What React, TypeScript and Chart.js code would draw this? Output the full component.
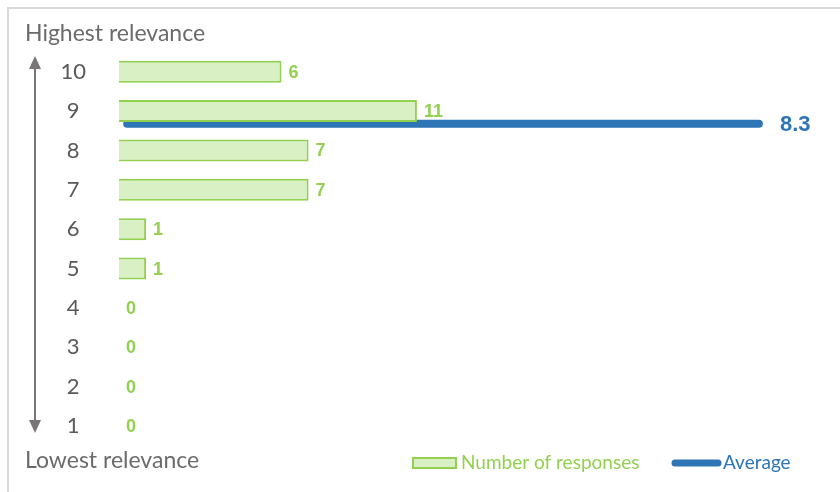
import React, { useEffect, useRef } from "react";
import { Chart, registerables } from "chart.js";

Chart.register(...registerables);

const categories = ["10", "9", "8", "7", "6", "5", "4", "3", "2", "1"];
const responses = [6, 11, 7, 7, 1, 1, 0, 0, 0, 0];
const averageValue = 8.3;
const topLabel = "Highest relevance";
const bottomLabel = "Lowest relevance";
const seriesNames = ["Number of responses", "Average"];

const GREEN = "#92D050";
const GREEN_FILL = "#D8F0C4";
const BLUE = "#2E75B6";
const GRAY_TEXT = "#6B6B6B";
const ARROW = "#7A7676";

const overlay = {
  id: "overlay",
  afterDatasetsDraw(chart: any) {
    const ctx = chart.ctx;
    ctx.save();
    // frame (top + left)
    ctx.strokeStyle = "#D9D9D9";
    ctx.lineWidth = 2;
    ctx.beginPath();
    ctx.moveTo(8, chart.height);
    ctx.lineTo(8, 8);
    ctx.lineTo(chart.width, 8);
    ctx.stroke();

    // value labels
    const meta = chart.getDatasetMeta(0);
    ctx.font = "bold condensed 18px 'Liberation Sans Narrow', 'Liberation Sans', sans-serif";
    ctx.fillStyle = GREEN;
    ctx.textAlign = "left";
    ctx.textBaseline = "middle";
    meta.data.forEach((el: any, i: number) => {
      ctx.fillText(String(responses[i]), el.x + 7, el.y + 1);
    });

    // average label
    const lmeta = chart.getDatasetMeta(1);
    const last = lmeta.data[lmeta.data.length - 1];
    ctx.font = "bold 22px 'Liberation Sans', Arial, sans-serif";
    ctx.fillStyle = BLUE;
    ctx.fillText(averageValue.toFixed(1), last.x + 21, last.y + 1);

    // side titles
    ctx.font = "23px Lato, sans-serif";
    ctx.fillStyle = GRAY_TEXT;
    ctx.fillText(topLabel, 25, 34);
    ctx.fillText(bottomLabel, 25, 461);

    // arrow
    const ax = 35;
    const yTop = 56;
    const yBot = 433;
    ctx.strokeStyle = ARROW;
    ctx.fillStyle = ARROW;
    ctx.lineWidth = 2;
    ctx.beginPath();
    ctx.moveTo(ax, yTop + 10);
    ctx.lineTo(ax, yBot - 10);
    ctx.stroke();
    ctx.beginPath();
    ctx.moveTo(ax, yTop);
    ctx.lineTo(ax - 6, yTop + 13);
    ctx.lineTo(ax + 6, yTop + 13);
    ctx.closePath();
    ctx.fill();
    ctx.beginPath();
    ctx.moveTo(ax, yBot);
    ctx.lineTo(ax - 6, yBot - 13);
    ctx.lineTo(ax + 6, yBot - 13);
    ctx.closePath();
    ctx.fill();

    // legend
    const ly = 463;
    ctx.fillStyle = GREEN_FILL;
    ctx.fillRect(413, ly - 5, 43, 10);
    ctx.strokeStyle = GREEN;
    ctx.lineWidth = 2;
    ctx.strokeRect(413, ly - 5, 43, 10);
    ctx.font = "19px Lato, sans-serif";
    ctx.fillStyle = GREEN;
    ctx.textBaseline = "middle";
    ctx.fillText(seriesNames[0], 461, ly);
    ctx.strokeStyle = BLUE;
    ctx.lineWidth = 7;
    ctx.lineCap = "round";
    ctx.beginPath();
    ctx.moveTo(675, ly);
    ctx.lineTo(718, ly);
    ctx.stroke();
    ctx.fillStyle = BLUE;
    ctx.fillText(seriesNames[1], 723, ly);
    ctx.restore();
  },
};

export default function App() {
  const ref = useRef<HTMLCanvasElement | null>(null);
  useEffect(() => {
    document.body.style.margin = "0";
    const chart = new Chart(ref.current as HTMLCanvasElement, {
      type: "bar",
      data: {
        labels: categories,
        datasets: [
          {
            label: seriesNames[0],
            data: responses,
            backgroundColor: GREEN_FILL,
            borderColor: GREEN,
            borderWidth: 2,
            barPercentage: 0.56,
            categoryPercentage: 1,
            grouped: false,
            xAxisID: "x",
            yAxisID: "y",
          } as any,
          {
            type: "line",
            label: seriesNames[1],
            data: [
              { x: 0, y: averageValue },
              { x: 1, y: averageValue },
            ],
            indexAxis: "x",
            xAxisID: "x2",
            yAxisID: "y2",
            borderColor: BLUE,
            borderWidth: 8,
            borderCapStyle: "round",
            pointRadius: 0,
            clip: false,
          } as any,
        ],
      },
      options: {
        indexAxis: "y",
        animation: false,
        responsive: false,
        events: [],
        layout: { padding: { top: 52, bottom: 45, right: 71, left: 0 } },
        plugins: { legend: { display: false }, tooltip: { enabled: false } },
        scales: {
          x: { type: "linear", min: 0, max: 24, display: false },
          x2: { type: "linear", axis: "x", offset: false, min: -0.013, max: 1.016, display: false },
          y2: { type: "linear", axis: "y", offset: false, min: 0.12, max: 10.12, display: false },
          y: {
            type: "category",
            grid: { display: false, drawTicks: false },
            border: { display: false },
            afterFit: (s: any) => {
              s.width = 119;
            },
            ticks: {
              crossAlign: "center",
              padding: 33,
              color: "#595959",
              font: { family: "Lato, sans-serif", size: 22 },
            },
          },
        },
      } as any,
      plugins: [overlay],
    });
    return () => chart.destroy();
  }, []);
  return (
    <div style={{ width: 840, height: 492 }}>
      <canvas ref={ref} width={840} height={492} style={{ display: "block" }} />
    </div>
  );
}
